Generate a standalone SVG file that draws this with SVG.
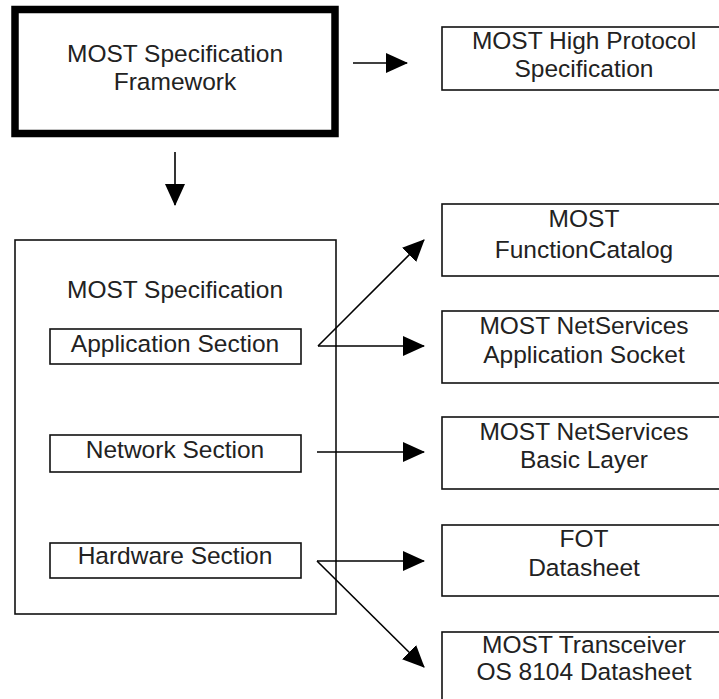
<svg xmlns="http://www.w3.org/2000/svg" width="719" height="699" viewBox="0 0 719 699">
<style>
.box{fill:#fff;stroke:#111;stroke-width:1.6}
.thick{fill:#fff;stroke:#000;stroke-width:7.5}
.t{font-family:"Liberation Sans",Arial,sans-serif;font-size:24.5px;fill:#222;text-anchor:middle}
.c{stroke:#000;stroke-width:1.6;fill:none;marker-end:url(#ah)}
</style>
<defs>
<marker id="ah" markerUnits="userSpaceOnUse" markerWidth="22" markerHeight="20" refX="21" refY="10" orient="auto" viewBox="0 0 22 20">
<path d="M0,0 L22,10 L0,20 z" fill="#000"/>
</marker>
</defs>
<rect width="719" height="699" fill="#fff"/>
<g id="framework">
<rect class="thick" x="15" y="9.5" width="320" height="124"/>
<text class="t" x="175" y="62">MOST Specification</text>
<text class="t" x="175" y="90">Framework</text>
</g>
<g id="highprotocol">
<rect class="box" x="442" y="27" width="290" height="63"/>
<text class="t" x="584" y="49">MOST High Protocol</text>
<text class="t" x="584" y="77">Specification</text>
</g>
<g id="mostspec">
<rect class="box" x="15" y="240" width="321" height="374"/>
<text class="t" x="175" y="298">MOST Specification</text>
</g>
<g id="application">
<rect class="box" x="50" y="329" width="251" height="35"/>
<text class="t" x="175" y="352">Application Section</text>
</g>
<g id="network">
<rect class="box" x="50" y="435" width="251" height="37"/>
<text class="t" x="175" y="458">Network Section</text>
</g>
<g id="hardware">
<rect class="box" x="50" y="543" width="251" height="35"/>
<text class="t" x="175" y="564">Hardware Section</text>
</g>
<g id="functioncatalog">
<rect class="box" x="442" y="204" width="290" height="72"/>
<text class="t" x="584" y="227">MOST</text>
<text class="t" x="584" y="258">FunctionCatalog</text>
</g>
<g id="appsocket">
<rect class="box" x="442" y="311" width="290" height="72"/>
<text class="t" x="584" y="334">MOST NetServices</text>
<text class="t" x="584" y="363">Application Socket</text>
</g>
<g id="basiclayer">
<rect class="box" x="442" y="417" width="290" height="72"/>
<text class="t" x="584" y="440">MOST NetServices</text>
<text class="t" x="584" y="468">Basic Layer</text>
</g>
<g id="fot">
<rect class="box" x="442" y="525" width="290" height="71"/>
<text class="t" x="584" y="547">FOT</text>
<text class="t" x="584" y="576">Datasheet</text>
</g>
<g id="transceiver">
<rect class="box" x="442" y="632" width="290" height="90"/>
<text class="t" x="584" y="653">MOST Transceiver</text>
<text class="t" x="584" y="680">OS 8104 Datasheet</text>
</g>
<g id="connectors">
<line class="c" x1="353" y1="63" x2="407" y2="63"/>
<line class="c" x1="175" y1="152" x2="175" y2="205"/>
<line class="c" x1="318" y1="346" x2="424" y2="240"/>
<line class="c" x1="318" y1="346" x2="424" y2="346"/>
<line class="c" x1="317" y1="452" x2="424" y2="452"/>
<line class="c" x1="317" y1="561" x2="424" y2="561"/>
<line class="c" x1="317" y1="561" x2="424" y2="667"/>
</g>
</svg>
